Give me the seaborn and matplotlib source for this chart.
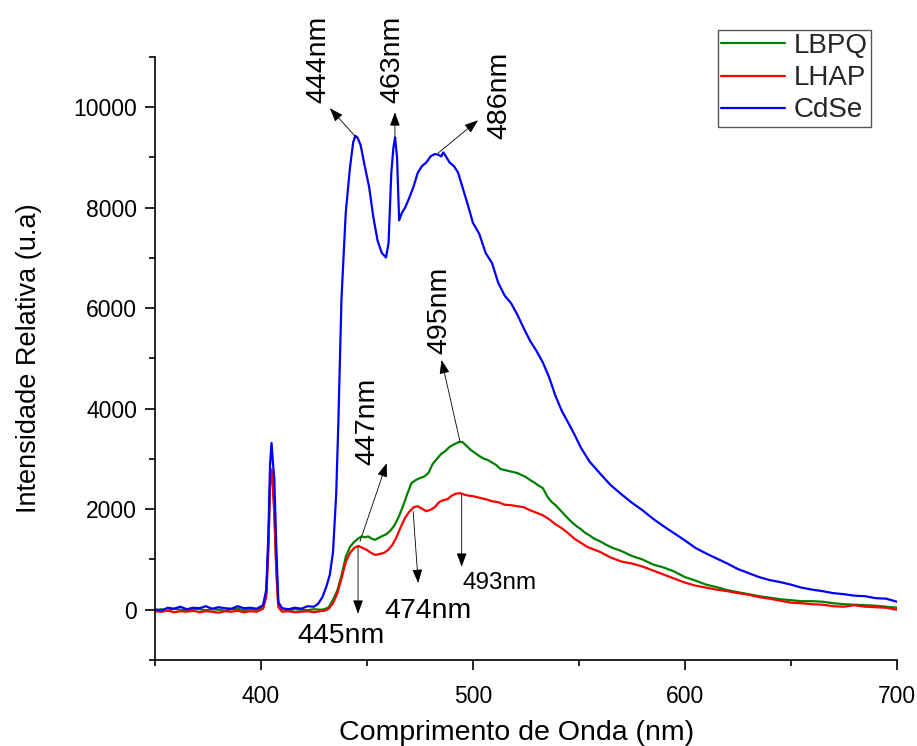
import matplotlib
matplotlib.use("Agg")
import matplotlib.pyplot as plt
from matplotlib.ticker import MultipleLocator
import numpy as np
import pandas as pd
import seaborn as sns

# ---- spectra (wavelength in nm, relative intensity) ----
cdse_wl = [350, 353, 356, 359, 362, 365, 368, 371, 374, 377, 380, 383, 386, 389, 392, 395, 398,
           401, 402.5, 403.5, 404.3, 405.0, 405.6, 406.3, 407.2, 408.2, 410, 413, 416, 419, 422,
           425, 427, 429, 431, 432.5, 434, 435.5, 436.5, 438, 440, 442, 443.5, 444.5, 445.5, 447,
           449, 451, 453, 455, 457, 459, 460.2, 461.5, 462.5, 463.3, 464.2, 465.2, 466.5, 468, 470,
           472, 474, 476, 478, 480, 482, 484, 485, 486, 487, 489, 491, 493, 495.5, 498, 500, 503,
           506, 509, 512, 515, 518, 521, 524, 527, 530, 533, 536, 539, 542, 545, 548, 551, 555,
           560, 565, 570, 575, 580, 585, 590, 595, 600, 605, 610, 615, 620, 625, 630, 635, 640,
           645, 650, 655, 660, 665, 670, 675, 680, 685, 690, 695, 700]
cdse_int = [10, -20, 40, 20, 60, 10, 40, 30, 70, 20, 50, 30, 20, 70, 30, 40, 20,
            90, 400, 1500, 2900, 3320, 2950, 2600, 1300, 150, 30, 10, 40, 20, 70,
            60, 120, 250, 480, 700, 1150, 2300, 3700, 6200, 7900, 8800, 9300, 9430, 9400, 9250,
            8820, 8420, 7820, 7350, 7100, 7010, 7300, 8700, 9200, 9400, 9000, 7750, 7900, 8000, 8200,
            8420, 8700, 8830, 8900, 9020, 9070, 9050, 9020, 9100, 9040, 8900, 8830, 8700, 8350, 8000, 7700, 7480,
            7100, 6900, 6500, 6250, 6100, 5870, 5600, 5350, 5150, 4920, 4620, 4250, 3950, 3720, 3480, 3220, 2950,
            2710, 2480, 2300, 2130, 1980, 1810, 1660, 1520, 1380, 1230, 1120, 1020, 920, 810, 730, 650, 590,
            550, 500, 440, 400, 370, 330, 310, 280, 270, 230, 220, 160]

lbpq_wl = [350, 353, 356, 359, 362, 365, 368, 371, 374, 377, 380, 383, 386, 389, 392, 395, 398,
           401, 402.5, 403.5, 404.3, 405.0, 405.6, 406.3, 407.2, 408.2, 410, 413, 416, 419, 422,
           425, 428, 430, 432, 434, 436, 438, 440, 442, 444, 446, 447.5, 449, 450.6, 452, 453.8,
           455.5, 457, 459, 461, 463, 465, 467, 469, 471, 473, 475, 477, 479, 481, 483, 485, 487,
           489, 491, 493, 495, 497, 499, 501, 503, 505, 507, 509, 511, 513, 515, 517, 519, 521,
           523, 525, 527, 529, 531, 533, 535, 537, 539, 541, 543, 545, 547, 549, 551, 553, 555,
           557, 560, 563, 566, 570, 575, 580, 585, 590, 595, 600, 605, 610, 615, 620, 625, 630,
           635, 640, 645, 650, 655, 660, 665, 670, 675, 680, 685, 690, 695, 700]
lbpq_int = [-10, 10, -20, 20, 0, -10, 20, 10, -10, 10, 0, -20, 10, 20, -10, 10, 0,
            50, 300, 1300, 2500, 2720, 2500, 2000, 900, 100, 10, -10, 10, 0, -10,
            10, 0, 10, 50, 200, 380, 680, 1050, 1250, 1350, 1420, 1460, 1440, 1460, 1420, 1390,
            1430, 1460, 1500, 1570, 1680, 1850, 2060, 2300, 2520, 2580, 2620, 2650, 2720, 2900, 3000, 3100, 3160,
            3240, 3290, 3330, 3340, 3260, 3180, 3120, 3060, 3010, 2980, 2930, 2880, 2800, 2780, 2760, 2740, 2720,
            2680, 2640, 2580, 2530, 2470, 2420, 2260, 2150, 2080, 1990, 1900, 1810, 1730, 1660, 1600, 1530, 1480,
            1420, 1360, 1290, 1230, 1170, 1070, 1000, 900, 840, 760, 650, 580, 500, 450, 390, 350, 310,
            270, 240, 210, 190, 170, 170, 160, 130, 110, 100, 90, 80, 60, 40]

lhap_wl = [350, 353, 356, 359, 362, 365, 368, 371, 374, 377, 380, 383, 386, 389, 392, 395, 398,
           401, 402.5, 403.5, 404.3, 405.0, 405.6, 406.3, 407.2, 408.2, 410, 413, 416, 419, 422,
           425, 428, 430, 432, 434, 436, 438, 440, 442, 444, 445.9, 448, 450, 452, 454, 456, 458,
           460, 462, 464, 466, 468, 470, 472, 474, 476, 478, 480, 482, 484, 486, 488, 490, 492,
           494, 496, 498, 500, 503, 506, 509, 512, 515, 518, 521, 524, 527, 530, 533, 536, 539,
           542, 545, 548, 551, 554, 557, 560, 565, 570, 575, 580, 585, 590, 595, 600, 605, 610,
           615, 620, 625, 630, 635, 640, 645, 650, 655, 660, 665, 670, 675, 680, 685, 690, 695, 700]
lhap_int = [-30, -40, -20, -50, -30, -40, -20, -50, -30, -40, -60, -30, -40, -20, -50, -30, -40,
            20, 250, 1200, 2500, 2790, 2450, 1900, 800, 50, -40, -30, -50, -40, -30,
            -50, -30, -20, 20, 130, 320, 620, 950, 1130, 1230, 1270, 1230, 1190, 1130, 1090, 1110, 1130,
            1190, 1290, 1450, 1650, 1830, 1950, 2040, 2060, 2010, 1960, 1990, 2040, 2140, 2180, 2200, 2270, 2310,
            2320, 2290, 2270, 2260, 2230, 2200, 2160, 2140, 2090, 2080, 2060, 2040, 1980, 1930, 1880, 1800, 1700,
            1620, 1520, 1410, 1330, 1250, 1200, 1150, 1040, 960, 920, 860, 780, 700, 620, 540, 480, 440,
            400, 370, 330, 300, 250, 220, 180, 140, 130, 110, 100, 70, 60, 90, 60, 50, 40, 0]

series_names = ["LBPQ", "LHAP", "CdSe"]
series_colors = ["#008000", "#ff0000", "#0000ff"]

# peak labels: (text, arrow start (wl, I), arrow tip (wl, I), text centre (wl, I), rotation, size)
peak_labels = [
    ("444nm", (445.3, 9383), (432.5, 9980), (426.9, 10950), 90, 20.5),
    ("463nm", (463.2, 9383), (463.2, 9900), (461.8, 10950), 90, 20.5),
    ("486nm", (483.5, 9085), (502.4, 9741), (512.7, 10240), 90, 20.5),
    ("447nm", (446.7, 1358), (459.3, 2916), (450.0, 3757), 90, 20.5),
    ("495nm", (493.9, 3346), (485.2, 4970), (484.4, 5964), 90, 20.5),
    ("445nm", (445.8, 1258), (445.8, -80), (437.7, -517), 0, 20.5),
    ("474nm", (471.8, 1954), (474.2, 531), (478.8, -20), 0, 20.5),
    ("493nm", (494.7, 2286), (494.7, 855), (512.7, 537), 0, 17.5),
]

frames = []
for name, wl, inten in [("LBPQ", lbpq_wl, lbpq_int), ("LHAP", lhap_wl, lhap_int), ("CdSe", cdse_wl, cdse_int)]:
    frames.append(pd.DataFrame({"wl": wl, "intensity": inten, "amostra": name}))
df = pd.concat(frames, ignore_index=True)

sns.set_theme(style="ticks")
plt.rcParams["font.family"] = ["Liberation Sans", "DejaVu Sans"]

fig = plt.figure(figsize=(9.17, 7.46), dpi=100)
ax = fig.add_axes([0.169, 0.1153, 0.809, 0.8083])

sns.lineplot(data=df, x="wl", y="intensity", hue="amostra", hue_order=series_names,
             palette=series_colors, estimator=None, sort=False, linewidth=1.6, ax=ax)

ax.set_xlim(350, 700)
ax.set_ylim(-1000, 11000)
ax.xaxis.set_major_locator(MultipleLocator(100))
ax.xaxis.set_minor_locator(MultipleLocator(50))
ax.yaxis.set_major_locator(MultipleLocator(2000))
ax.yaxis.set_minor_locator(MultipleLocator(1000))

for side in ["top", "right"]:
    ax.spines[side].set_visible(False)
for side in ["left", "bottom"]:
    ax.spines[side].set_linewidth(1.2)
    ax.spines[side].set_color("black")

ax.tick_params(axis="both", which="major", direction="out", length=7, width=1.2,
               labelsize=16.5, color="black", labelcolor="black")
ax.tick_params(axis="both", which="minor", direction="out", length=4, width=1.2, color="black")
ax.tick_params(axis="x", which="major", pad=11)
ax.tick_params(axis="y", which="major", pad=6)

ax.set_xlabel("Comprimento de Onda (nm)", fontsize=20.5, color="black")
ax.set_ylabel("Intensidade Relativa (u.a)", fontsize=19.5, color="black")
ax.xaxis.set_label_coords(0.487, -0.1)
ax.yaxis.set_label_coords(-0.152, 0.5)

for text, start, tip, pos, rot, size in peak_labels:
    ax.annotate("", xy=tip, xytext=start,
                arrowprops=dict(arrowstyle="-|>,head_length=0.6,head_width=0.22",
                                mutation_scale=14, lw=0.6, color="black",
                                shrinkA=0, shrinkB=0),
                annotation_clip=False)
    ax.text(pos[0], pos[1], text, rotation=rot, ha="center", va="center",
            fontsize=size, color="black", clip_on=False)

leg = ax.legend(loc="upper left", bbox_to_anchor=(0.759, 1.045), fontsize=20,
                frameon=True, fancybox=False, edgecolor="#555555", framealpha=1,
                handlelength=2.3, handletextpad=0.3, borderpad=0.12,
                labelspacing=0.22, borderaxespad=0)
leg.get_frame().set_linewidth(1.0)
for line in leg.get_lines():
    line.set_linewidth(1.6)

fig.savefig("out.png", dpi=100, facecolor="white")
